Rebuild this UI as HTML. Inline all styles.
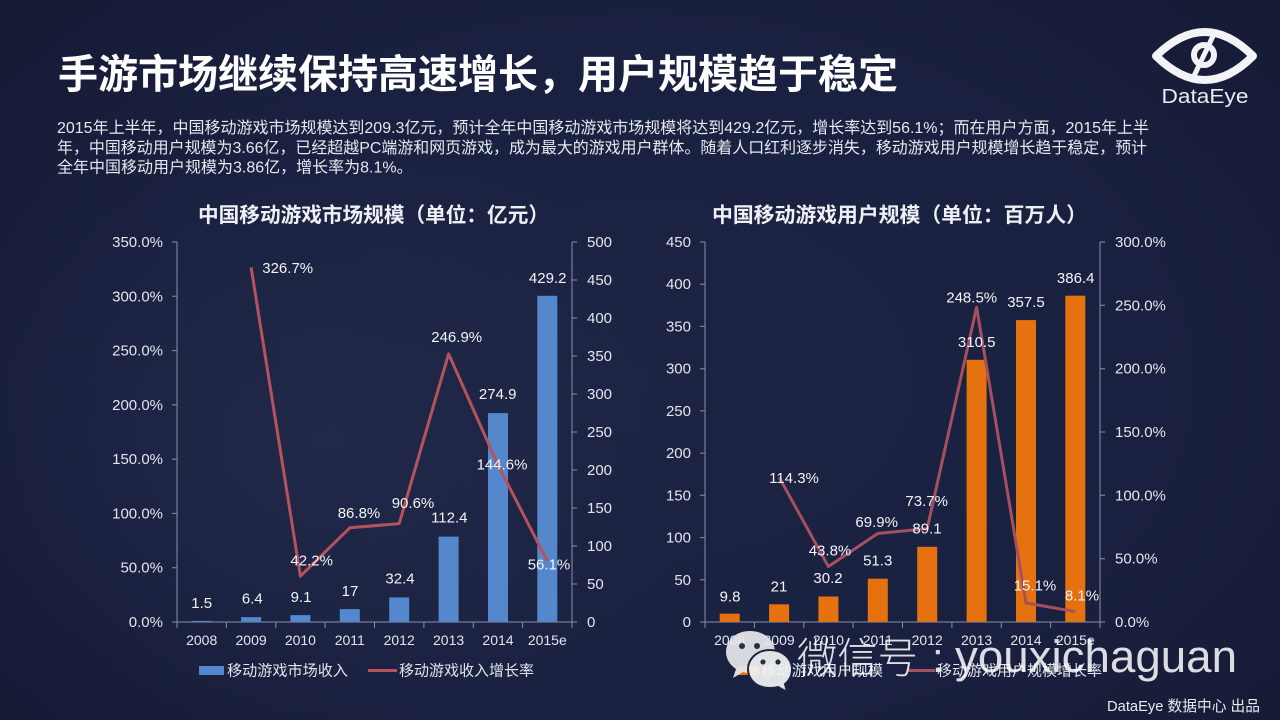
<!DOCTYPE html>
<html>
<head>
<meta charset="utf-8">
<style>
  html,body{margin:0;padding:0;}
  body{width:1280px;height:720px;overflow:hidden;
    background:
      radial-gradient(ellipse 380px 300px at 330px 440px, rgba(40,49,84,0.45) 0%, rgba(40,49,84,0.18) 55%, rgba(0,0,0,0) 100%),
      radial-gradient(ellipse 900px 600px at 640px 380px, #1c2343 0%, #1a2140 55%, #151a33 100%);
    font-family:"Liberation Sans","Noto Sans CJK SC",sans-serif;}
  svg{position:absolute;left:0;top:0;}
  text{font-family:"Liberation Sans","Noto Sans CJK SC",sans-serif;}
</style>
</head>
<body>
<svg width="1280" height="720" viewBox="0 0 1280 720" xmlns="http://www.w3.org/2000/svg">
  <!-- Title -->
  <text x="58" y="88" font-size="40" font-weight="bold" fill="#ffffff" textLength="840" lengthAdjust="spacingAndGlyphs">手游市场继续保持高速增长，用户规模趋于稳定</text>

  <!-- Logo -->
  <g fill="none" stroke="#f2f3f6" stroke-linejoin="round">
    <path d="M1156 56 Q1205 8 1253 56 Q1205 104 1156 56 Z" stroke-width="8"/>
    <circle cx="1204" cy="55" r="10" stroke-width="6"/>
    <path d="M1214 34 L1194 76" stroke-width="5"/>
  </g>
  <text x="1205" y="103" font-size="20" fill="#e9ebf0" text-anchor="middle" textLength="87" lengthAdjust="spacingAndGlyphs">DataEye</text>

  <!-- Paragraph -->
  <g font-size="16" fill="#e6e8ef">
    <text x="57" y="133" textLength="1092" lengthAdjust="spacingAndGlyphs">2015年上半年，中国移动游戏市场规模达到209.3亿元，预计全年中国移动游戏市场规模将达到429.2亿元，增长率达到56.1%；而在用户方面，2015年上半</text>
    <text x="57" y="153" textLength="1090" lengthAdjust="spacingAndGlyphs">年，中国移动用户规模为3.66亿，已经超越PC端游和网页游戏，成为最大的游戏用户群体。随着人口红利逐步消失，移动游戏用户规模增长趋于稳定，预计</text>
    <text x="57" y="172.5">全年中国移动用户规模为3.86亿，增长率为8.1%。</text>
  </g>

  <!-- Chart titles -->
  <text x="198" y="222" font-size="20.7" font-weight="bold" fill="#eef0f5" textLength="351" lengthAdjust="spacingAndGlyphs">中国移动游戏市场规模（单位：亿元）</text>
  <text x="712" y="222" font-size="20.7" font-weight="bold" fill="#eef0f5" textLength="375" lengthAdjust="spacingAndGlyphs">中国移动游戏用户规模（单位：百万人）</text>

  <!-- ===== LEFT CHART ===== -->
  <g stroke="#8a8fa8" stroke-width="1" fill="none">
    <line x1="177" y1="242" x2="177" y2="622"/>
    <line x1="572" y1="242" x2="572" y2="622"/>
    <line x1="172" y1="622" x2="577" y2="622"/>
    <path d="M172 242H177M172 296.3H177M172 350.6H177M172 404.9H177M172 459.1H177M172 513.4H177M172 567.7H177"/>
    <path d="M572 242H577M572 280H577M572 318H577M572 356H577M572 394H577M572 432H577M572 470H577M572 508H577M572 546H577M572 584H577"/>
    <path d="M177 622V628M226.4 622V628M275.8 622V628M325.1 622V628M374.5 622V628M423.9 622V628M473.3 622V628M522.6 622V628M572 622V628"/>
  </g>
  <g fill="#5487cc">
    <rect x="191.7" y="620.9" width="20" height="1.1"/>
    <rect x="241.1" y="617.1" width="20" height="4.9"/>
    <rect x="290.4" y="615.1" width="20" height="6.9"/>
    <rect x="339.8" y="609.1" width="20" height="12.9"/>
    <rect x="389.2" y="597.4" width="20" height="24.6"/>
    <rect x="438.6" y="536.6" width="20" height="85.4"/>
    <rect x="488.0" y="413.1" width="20" height="208.9"/>
    <rect x="537.3" y="295.8" width="20" height="326.2"/>
  </g>
  <polyline points="251.1,267.3 300.4,576.2 349.8,527.8 399.2,523.6 448.6,353.9 498.0,465.0 547.3,561.1" fill="none" stroke="#b4535e" stroke-width="3" stroke-linejoin="round"/>
  <g font-size="15" fill="#e3e5ee" text-anchor="end">
    <text x="163" y="247">350.0%</text>
    <text x="163" y="301.3">300.0%</text>
    <text x="163" y="355.6">250.0%</text>
    <text x="163" y="409.9">200.0%</text>
    <text x="163" y="464.1">150.0%</text>
    <text x="163" y="518.4">100.0%</text>
    <text x="163" y="572.7">50.0%</text>
    <text x="163" y="627">0.0%</text>
  </g>
  <g font-size="15" fill="#e3e5ee" text-anchor="start">
    <text x="587" y="247">500</text>
    <text x="587" y="285">450</text>
    <text x="587" y="323">400</text>
    <text x="587" y="361">350</text>
    <text x="587" y="399">300</text>
    <text x="587" y="437">250</text>
    <text x="587" y="475">200</text>
    <text x="587" y="513">150</text>
    <text x="587" y="551">100</text>
    <text x="587" y="589">50</text>
    <text x="587" y="627">0</text>
  </g>
  <g font-size="14" fill="#e3e5ee" text-anchor="middle">
    <text x="201.7" y="645">2008</text>
    <text x="251.1" y="645">2009</text>
    <text x="300.4" y="645">2010</text>
    <text x="349.8" y="645">2011</text>
    <text x="399.2" y="645">2012</text>
    <text x="448.6" y="645">2013</text>
    <text x="498.0" y="645">2014</text>
    <text x="547.3" y="645">2015e</text>
  </g>
  <g font-size="15" fill="#f2f3f7" text-anchor="middle">
    <text x="201.7" y="608">1.5</text>
    <text x="252.3" y="603.5">6.4</text>
    <text x="301" y="602">9.1</text>
    <text x="350" y="596">17</text>
    <text x="400" y="583.5">32.4</text>
    <text x="449.3" y="522.5">112.4</text>
    <text x="497.7" y="399.2">274.9</text>
    <text x="547.7" y="283">429.2</text>
    <text x="287.7" y="273">326.7%</text>
    <text x="311.7" y="565.3">42.2%</text>
    <text x="359" y="518">86.8%</text>
    <text x="413" y="508">90.6%</text>
    <text x="456.7" y="342">246.9%</text>
    <text x="502" y="469.3">144.6%</text>
    <text x="549" y="569.3">56.1%</text>
  </g>
  <rect x="199" y="666" width="25" height="9" fill="#5487cc"/>
  <text x="227" y="675.5" font-size="15" fill="#e3e5ee" textLength="121" lengthAdjust="spacingAndGlyphs">移动游戏市场收入</text>
  <line x1="368" y1="670.5" x2="397" y2="670.5" stroke="#b4535e" stroke-width="3"/>
  <text x="399" y="675.5" font-size="15" fill="#e3e5ee" textLength="135" lengthAdjust="spacingAndGlyphs">移动游戏收入增长率</text>

  <!-- ===== RIGHT CHART ===== -->
  <g stroke="#8a8fa8" stroke-width="1" fill="none">
    <line x1="705" y1="242" x2="705" y2="622"/>
    <line x1="1100" y1="242" x2="1100" y2="622"/>
    <line x1="700" y1="622" x2="1105" y2="622"/>
    <path d="M700 242H705M700 284.2H705M700 326.4H705M700 368.7H705M700 410.9H705M700 453.1H705M700 495.3H705M700 537.6H705M700 579.8H705"/>
    <path d="M1100 242H1105M1100 305.3H1105M1100 368.7H1105M1100 432H1105M1100 495.3H1105M1100 558.7H1105"/>
    <path d="M705 622V628M754.4 622V628M803.8 622V628M853.1 622V628M902.5 622V628M951.9 622V628M1001.3 622V628M1050.6 622V628M1100 622V628"/>
  </g>
  <g fill="#e5720e">
    <rect x="719.7" y="613.7" width="20" height="8.3"/>
    <rect x="769.1" y="604.3" width="20" height="17.7"/>
    <rect x="818.4" y="596.5" width="20" height="25.5"/>
    <rect x="867.8" y="578.7" width="20" height="43.3"/>
    <rect x="917.2" y="546.8" width="20" height="75.2"/>
    <rect x="966.6" y="359.8" width="20" height="262.2"/>
    <rect x="1016.0" y="320.1" width="20" height="301.9"/>
    <rect x="1065.3" y="295.7" width="20" height="326.3"/>
  </g>
  <polyline points="779.1,477.2 828.4,566.5 877.8,533.5 927.2,528.6 976.6,307.2 1026.0,602.9 1075.3,611.7" fill="none" stroke="#a5505f" stroke-width="3" stroke-linejoin="round"/>
  <g font-size="15" fill="#e3e5ee" text-anchor="end">
    <text x="691" y="247">450</text>
    <text x="691" y="289.2">400</text>
    <text x="691" y="331.4">350</text>
    <text x="691" y="373.7">300</text>
    <text x="691" y="415.9">250</text>
    <text x="691" y="458.1">200</text>
    <text x="691" y="500.3">150</text>
    <text x="691" y="542.6">100</text>
    <text x="691" y="584.8">50</text>
    <text x="691" y="627">0</text>
  </g>
  <g font-size="15" fill="#e3e5ee" text-anchor="start">
    <text x="1115" y="247">300.0%</text>
    <text x="1115" y="310.3">250.0%</text>
    <text x="1115" y="373.7">200.0%</text>
    <text x="1115" y="437">150.0%</text>
    <text x="1115" y="500.3">100.0%</text>
    <text x="1115" y="563.7">50.0%</text>
    <text x="1115" y="627">0.0%</text>
  </g>
  <g font-size="14" fill="#e3e5ee" text-anchor="middle">
    <text x="729.7" y="645">2008</text>
    <text x="779.1" y="645">2009</text>
    <text x="828.4" y="645">2010</text>
    <text x="877.8" y="645">2011</text>
    <text x="927.2" y="645">2012</text>
    <text x="976.6" y="645">2013</text>
    <text x="1026.0" y="645">2014</text>
    <text x="1075.3" y="645">2015e</text>
  </g>
  <g font-size="15" fill="#f2f3f7" text-anchor="middle">
    <text x="730" y="601.3">9.8</text>
    <text x="779" y="591.3">21</text>
    <text x="828" y="583">30.2</text>
    <text x="877.7" y="565.3">51.3</text>
    <text x="927" y="533.6">89.1</text>
    <text x="976.7" y="347">310.5</text>
    <text x="1026" y="307">357.5</text>
    <text x="1075.7" y="283">386.4</text>
    <text x="794" y="483">114.3%</text>
    <text x="830" y="555.3">43.8%</text>
    <text x="876.7" y="527">69.9%</text>
    <text x="926.7" y="506">73.7%</text>
    <text x="971.7" y="302.6">248.5%</text>
    <text x="1035" y="590.3">15.1%</text>
    <text x="1082" y="600.3">8.1%</text>
  </g>
  <rect x="737" y="666" width="22" height="9" fill="#e5720e"/>
  <text x="761" y="675.5" font-size="15" fill="#e3e5ee" textLength="122" lengthAdjust="spacingAndGlyphs">移动游戏用户规模</text>
  <line x1="908" y1="670.5" x2="935" y2="670.5" stroke="#a5505f" stroke-width="3"/>
  <text x="937" y="675.5" font-size="15" fill="#e3e5ee" textLength="165" lengthAdjust="spacingAndGlyphs">移动游戏用户规模增长率</text>

  <!-- WeChat watermark -->
  <g opacity="0.92">
    <path d="M750 631 C735 631 726 641 726 652 C726 659 730 665 736 669 L733 678 L743 672 C746 673 748 673 751 673 C766 673 775 663 775 652 C775 641 765 631 750 631 Z" fill="#e9e9ec"/>
    <circle cx="742" cy="646" r="3" fill="#2a2f45"/>
    <circle cx="757" cy="646" r="3" fill="#2a2f45"/>
    <path d="M770 650 C757 650 748 659 748 669 C748 680 757 688 770 688 C773 688 775 688 778 687 L787 692 L785 684 C790 680 792 675 792 669 C792 659 783 650 770 650 Z" fill="#f4f4f6" stroke="#1e2442" stroke-width="2"/>
    <circle cx="763" cy="662" r="2.6" fill="#2a2f45"/>
    <circle cx="778" cy="662" r="2.6" fill="#2a2f45"/>
  </g>
  <g fill="#ffffff" fill-opacity="0.85">
    <text x="797" y="673" font-size="42" font-weight="300" textLength="121" lengthAdjust="spacingAndGlyphs">微信号</text>
    <text x="932" y="672" font-size="42" font-weight="300">:</text>
    <text x="955" y="672" font-size="45" font-weight="300" textLength="282" lengthAdjust="spacingAndGlyphs">youxichaguan</text>
  </g>

  <text x="1107" y="711" font-size="15" fill="#e8eaf0" textLength="153" lengthAdjust="spacingAndGlyphs">DataEye 数据中心 出品</text>
</svg>
</body>
</html>
